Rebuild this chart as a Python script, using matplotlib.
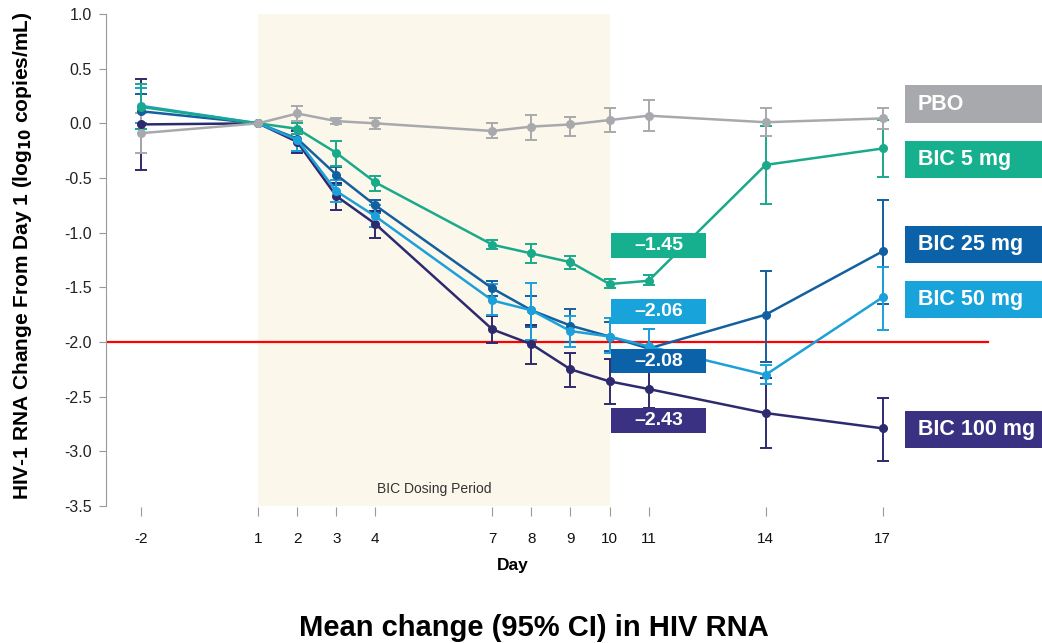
import matplotlib
matplotlib.use('Agg')
import matplotlib.pyplot as plt
from matplotlib.patches import Rectangle

plt.rcParams['font.family'] = ['Liberation Sans', 'DejaVu Sans']

days = [-2, 1, 2, 3, 4, 7, 8, 9, 10, 11, 14, 17]
tick_days = [-2, 1, 2, 3, 4, 7, 8, 9, 10, 11, 14, 17]

# mean change and 95% CI bounds (day 1 is the reference, no CI)
pbo = [-0.09, 0, 0.09, 0.02, 0.0, -0.07, -0.03, -0.01, 0.03, 0.07, 0.01, 0.045]
pbo_lo = [-0.27, 0, 0.02, -0.01, -0.05, -0.13, -0.15, -0.12, -0.08, -0.07, -0.12, -0.05]
pbo_hi = [0.09, 0, 0.16, 0.05, 0.05, 0.0, 0.08, 0.06, 0.14, 0.21, 0.14, 0.14]

bic5 = [0.15, 0, -0.05, -0.27, -0.54, -1.11, -1.19, -1.27, -1.47, -1.44, -0.38, -0.23]
bic5_lo = [-0.05, 0, -0.10, -0.39, -0.62, -1.15, -1.28, -1.33, -1.51, -1.48, -0.74, -0.49]
bic5_hi = [0.36, 0, 0.0, -0.16, -0.48, -1.07, -1.10, -1.21, -1.42, -1.39, -0.02, 0.03]

bic25 = [0.11, 0, -0.14, -0.47, -0.75, -1.51, -1.71, -1.85, -1.95, -2.06, -1.75, -1.17]
bic25_lo = [-0.05, 0, -0.25, -0.56, -0.82, -1.58, -1.86, -2.00, -2.08, -2.25, -2.18, -1.65]
bic25_hi = [0.27, 0, -0.05, -0.40, -0.70, -1.44, -1.58, -1.70, -1.82, -1.88, -1.35, -0.70]

bic50 = [0.16, 0, -0.15, -0.62, -0.85, -1.62, -1.71, -1.90, -1.95, -2.04, -2.30, -1.59]
bic50_lo = [0.0, 0, -0.25, -0.72, -0.95, -1.75, -1.98, -2.05, -2.10, -2.20, -2.38, -1.89]
bic50_hi = [0.32, 0, -0.05, -0.52, -0.75, -1.47, -1.46, -1.76, -1.78, -1.88, -2.21, -1.31]

bic100 = [-0.01, 0, -0.17, -0.665, -0.92, -1.885, -2.02, -2.25, -2.36, -2.43, -2.65, -2.79]
bic100_lo = [-0.43, 0, -0.27, -0.79, -1.05, -2.01, -2.20, -2.41, -2.57, -2.60, -2.97, -3.09]
bic100_hi = [0.41, 0, -0.07, -0.55, -0.80, -1.76, -1.84, -2.10, -2.16, -2.26, -2.33, -2.51]

series_names = ['BIC 100 mg', 'BIC 25 mg', 'BIC 50 mg', 'BIC 5 mg', 'PBO']
series = [(bic100, bic100_lo, bic100_hi), (bic25, bic25_lo, bic25_hi),
          (bic50, bic50_lo, bic50_hi), (bic5, bic5_lo, bic5_hi),
          (pbo, pbo_lo, pbo_hi)]
colors = ['#2E2A6E', '#135FA0', '#1CA0D9', '#1AA98B', '#A7A9AC']
box_colors = ['#3B3182', '#0C62A8', '#18A3DB', '#16B08E', '#A7A9AC']
# vertical centre of each right-hand label box
label_y = [-2.80, -1.11, -1.61, -0.33, 0.176]

day10_labels = ['\u20131.45', '\u20132.06', '\u20132.08', '\u20132.43']
day10_colors = ['#16B08E', '#18A3DB', '#0C62A8', '#3B3182']
day10_y = [-1.12, -1.72, -2.175, -2.72]

fig = plt.figure(figsize=(10.42, 6.43), dpi=100)
ax = fig.add_axes([106 / 1042, 1 - 506 / 643, 1 - 106 / 1042, 492 / 643])
ax.set_xlim(-2.90, 21.08)
ax.set_ylim(-3.5, 1.0)

ax.axvspan(1, 10, color='#FCF7EB', zorder=0, lw=0)
ax.text(5.5, -3.34, 'BIC Dosing Period', ha='center', va='center',
        fontsize=10, color='#333333')
ax.plot([-2.86, 19.7], [-2, -2], color='#FF0000', lw=1.6, zorder=1)

for (mean, lo, hi), c in zip(series, colors):
    ax.plot(days, mean, color=c, lw=1.8, marker='o', ms=5.5, zorder=3)
    idx = [i for i, d in enumerate(days) if d != 1]
    xs = [days[i] for i in idx]
    ys = [mean[i] for i in idx]
    err = [[mean[i] - lo[i] for i in idx], [hi[i] - mean[i] for i in idx]]
    ax.errorbar(xs, ys, yerr=err, fmt='none', ecolor=c, elinewidth=1.4,
                capsize=4.5, capthick=1.4, zorder=2)

# label boxes on the right
for name, y, c in zip(series_names, label_y, box_colors):
    ax.add_patch(Rectangle((17.56, y - 0.172), 4, 0.344, fc=c, ec='none',
                           clip_on=False, zorder=4))
    ax.text(17.9, y, name, color='white', fontsize=15.5, fontweight='bold',
            ha='left', va='center', zorder=5, clip_on=False)

# day-10 value boxes
for s, y, c in zip(day10_labels, day10_y, day10_colors):
    ax.add_patch(Rectangle((10.05, y - 0.113), 2.42, 0.226, fc=c, ec='none',
                           zorder=4))
    ax.text(11.26, y, s, color='white', fontsize=14, fontweight='bold',
            ha='center', va='center', zorder=5)

for side in ['top', 'right']:
    ax.spines[side].set_visible(False)
ax.spines['bottom'].set_position(('outward', 1))
ax.spines['bottom'].set_visible(False)
ax.spines['left'].set_color('#999999')
ax.set_yticks([1.0, 0.5, 0.0, -0.5, -1.0, -1.5, -2.0, -2.5, -3.0, -3.5])
ax.set_yticklabels(['1.0', '0.5', '0.0', '-0.5', '-1.0', '-1.5', '-2.0',
                    '-2.5', '-3.0', '-3.5'])
ax.set_xticks(tick_days)
ax.set_xticklabels([str(d) for d in tick_days])
ax.tick_params(axis='y', length=5, color='#999999', labelsize=11.5,
               labelcolor='#222222', pad=5)
ax.tick_params(axis='x', length=6.5, color='#999999', labelsize=11,
               labelcolor='#111111', pad=11)

ax.set_xlabel('Day', fontsize=12.5, fontweight='bold')
ax.xaxis.set_label_coords(0.435, -0.105)
ax.set_ylabel('HIV-1 RNA Change From Day 1 (log$_{\\mathbf{10}}$ copies/mL)',
              fontsize=15, fontweight='bold')
ax.yaxis.set_label_coords(-0.077, 0.508)
fig.text(534 / 1042, 1 - 628 / 643, 'Mean change (95% CI) in HIV RNA',
         ha='center', va='center', fontsize=21, fontweight='bold')

fig.savefig('out.png', dpi=100)
